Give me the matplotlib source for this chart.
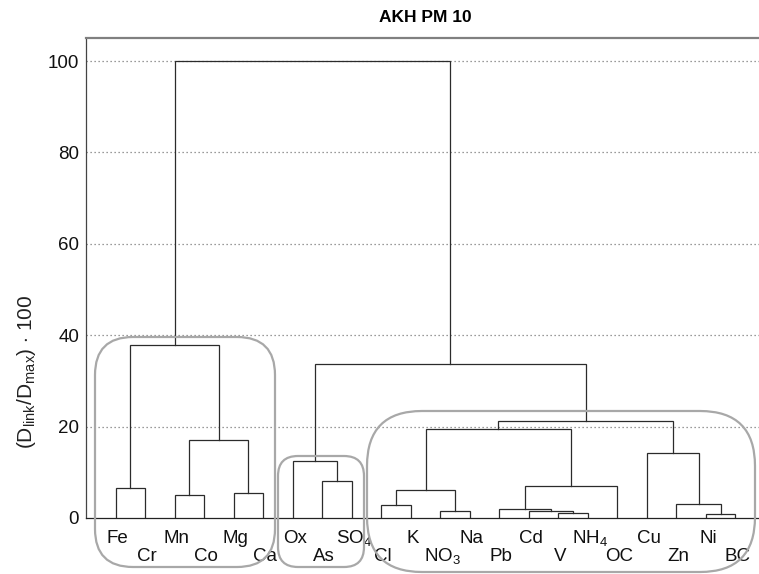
import matplotlib
matplotlib.use("Agg")
import matplotlib.pyplot as plt
from matplotlib.patches import FancyBboxPatch

plt.rcParams['font.family'] = ['Liberation Sans', 'DejaVu Sans']
plt.rcParams['mathtext.fontset'] = 'custom'
plt.rcParams['mathtext.rm'] = 'Liberation Sans'
plt.rcParams['mathtext.it'] = 'Liberation Sans:italic'
plt.rcParams['mathtext.bf'] = 'Liberation Sans:bold'

# ---- data ----
leaves = ['Fe', 'Cr', 'Mn', 'Co', 'Mg', 'Ca', 'Ox', 'As', 'SO$_4$', 'Cl', 'K',
          'NO$_3$', 'Na', 'Pb', 'Cd', 'V', 'NH$_4$', 'OC', 'Cu', 'Zn', 'Ni', 'BC']
# merges: (child_a, child_b) ; indices < 22 are leaves, >= 22 are earlier merges
merge_a = [20, 15, 11, 14, 13, 9, 19, 2, 4, 27, 0, 26, 7, 6, 18, 29, 31, 38, 35, 32, 41]
merge_b = [21, 16, 12, 23, 25, 10, 22, 3, 5, 24, 1, 17, 8, 34, 28, 30, 33, 36, 39, 37, 40]
merge_h = [0.9, 1.1, 1.6, 1.6, 2.0, 2.9, 3.1, 5.0, 5.5, 6.2, 6.5, 7.0, 8.1, 12.5,
           14.2, 17.1, 19.4, 21.3, 33.8, 37.9, 100.0]
yticks = [0, 20, 40, 60, 80, 100]
title = 'AKH PM 10'
ylabel = r'(D$_\mathrm{link}$/D$_\mathrm{max}$) $\cdot$ 100'

W, H = 759, 574
fig = plt.figure(figsize=(W / 100, H / 100), dpi=100)
ax_l, ax_r, ax_t, ax_b = 86, 765, 37.7, 518
ax = fig.add_axes([ax_l / W, (H - ax_b) / H, (ax_r - ax_l) / W, (ax_b - ax_t) / H])
ax.set_xlim(-1, 22)
ax.set_ylim(0, 105.1)

# grid
for yv in yticks[1:]:
    ax.axhline(yv, color='#7a7a7a', lw=0.9, ls=(0, (1, 2.2)), zorder=1)

# dendrogram
n = len(leaves)
xpos = {i: float(i) for i in range(n)}
ypos = {i: 0.0 for i in range(n)}
for k, (a, b, h) in enumerate(zip(merge_a, merge_b, merge_h)):
    idx = n + k
    xa, xb = xpos[a], xpos[b]
    ax.plot([xa, xa, xb, xb], [ypos[a], h, h, ypos[b]], color='#2b2b2b', lw=0.9,
            solid_joinstyle='miter', zorder=3)
    xpos[idx] = (xa + xb) / 2
    ypos[idx] = h

# leaf labels, staggered (baseline aligned)
for i, lab in enumerate(leaves):
    off = -17.8 if i % 2 == 0 else -30.8
    ax.annotate(lab, xy=(i, 0), xytext=(1.5, off), textcoords='offset points',
                ha='center', va='baseline', fontsize=13.5, color='#111111',
                annotation_clip=False, zorder=5)

ax.set_xticks([])
ax.set_yticks(yticks)
ax.tick_params(axis='y', length=0, pad=5, labelsize=13.5, labelcolor='#111111')
for s in ['right']:
    ax.spines[s].set_visible(False)
ax.spines['top'].set_color('#808080')
ax.spines['top'].set_linewidth(1.6)
ax.spines['left'].set_color('#444444')
ax.spines['left'].set_linewidth(0.9)
ax.spines['bottom'].set_color('#222222')
ax.spines['bottom'].set_linewidth(0.9)

# title and y label
fig.text(425 / W, 1 - 17 / H, title, ha='center', va='center', fontsize=12.5,
         fontweight='bold')
fig.text(27 / W, 1 - 372 / H, ylabel, ha='center', va='center', rotation=90,
         fontsize=15, color='#222222')

# grey rounded cluster boxes (pixel coordinates, top-left origin)
boxes = [(95, 337, 275, 567, 38), (278, 456, 364, 567, 20), (367, 411, 755, 572, 55)]
for x0, y0, x1, y1, r in boxes:
    p = FancyBboxPatch((x0 / 100, (H - y1) / 100), (x1 - x0) / 100, (y1 - y0) / 100,
                       boxstyle=f'round,pad=0,rounding_size={r / 100}',
                       transform=fig.dpi_scale_trans, fill=False,
                       edgecolor='#a8a8a8', lw=1.6, zorder=10, clip_on=False)
    fig.add_artist(p)

fig.savefig('out.png', dpi=100)
